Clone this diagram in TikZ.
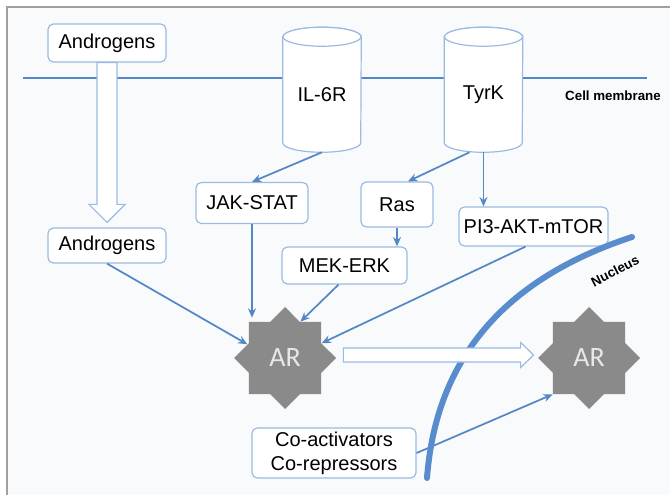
\documentclass[tikz,border=0pt]{standalone}
\usepackage{fontspec}
\setmainfont{Liberation Sans}
\newfontfamily\arfont{Carlito}
\usetikzlibrary{shapes.geometric,arrows.meta,calc}

\definecolor{linkblue}{RGB}{84,135,198}
\definecolor{boxblue}{RGB}{155,187,225}
\definecolor{nucblue}{RGB}{88,140,205}
\definecolor{panelbg}{RGB}{249,250,252}
\definecolor{framegray}{RGB}{160,160,160}
\definecolor{argray}{RGB}{138,138,138}
\definecolor{artext}{RGB}{232,232,232}

\begin{document}
\begin{tikzpicture}[x=0.75pt,y=-0.75pt,
  pathbox/.style={draw=boxblue, line width=0.9pt, rounded corners=4pt, fill=white,
    inner sep=0pt, align=center, font=\fontsize{15}{18}\selectfont},
  link/.style={draw=linkblue, line width=1.3pt, -{Stealth[length=7pt,width=6pt]}},
  receptor/.style={inner sep=0pt, minimum width=58.5pt, minimum height=86.25pt,
    font=\fontsize{15}{18}\selectfont},
  cyl/.style={draw=boxblue, line width=0.9pt, fill=white},
  arstar/.style={star, star points=8, star point ratio=1.307, minimum size=76.5pt,
    inner sep=0pt, fill=argray, text=artext, font=\arfont\fontsize{21}{24}\selectfont},
  hollow/.style={draw=boxblue, line width=0.9pt, fill=white, line join=miter},
  membrane/.style={draw=linkblue, line width=1.2pt},
  nucleus/.style={draw=nucblue, line width=4.5pt, line cap=round},
  smalllabel/.style={font=\fontsize{10}{12}\selectfont\bfseries, inner sep=0pt},
]
\useasboundingbox (0,0) rectangle (670,495);

% panel and frame
\fill[panelbg] (7,7) rectangle (690,510);
\draw[framegray, line width=1.1pt] (690,7) -- (7,7) -- (7,510);

% receptors (labels; cylinders drawn below)
\node[receptor] (il6r) at (322,94.5) {};
\node[receptor] (tyrk) at (483.5,94.5) {};

% cell membrane
\coordinate (memL) at (23,78);
\coordinate (memR) at (647,78);
\draw[membrane] (memL) -- (memL -| il6r.west);
\draw[membrane] (il6r.east |- memL) -- (tyrk.west |- memL);
\draw[membrane] (tyrk.east |- memL) -- (memR);
\node[smalllabel] (cm) at (613,96) {Cell membrane};

% cylinders
\foreach \r in {il6r,tyrk}{
  \draw[cyl] (\r.north west) -- ($(\r.south west)+(0,-9.5)$)
    arc[start angle=180, end angle=360, x radius=29.25pt, y radius=7.125pt]
    -- (\r.north east)
    arc[start angle=0, end angle=180, x radius=29.25pt, y radius=7.125pt] -- cycle;
  \draw[cyl] (\r.north) ellipse [x radius=29.25pt, y radius=7.125pt];
}
\node[receptor] at (il6r.center) {IL-6R};
\node[receptor] at (tyrk.center) {TyrK};

% pathway boxes
\node[pathbox, minimum width=88.5pt, minimum height=28.5pt] (andTop) at (107,43) {Androgens};
\node[pathbox, minimum width=88.5pt, minimum height=26.25pt] (andBot) at (107,245.5) {Androgens};
\node[pathbox, minimum width=84pt, minimum height=30.75pt] (jak) at (252,203) {JAK-STAT};
\node[pathbox, minimum width=54pt, minimum height=33.75pt] (ras) at (397,204.5) {Ras};
\node[pathbox, minimum width=111.75pt, minimum height=29.25pt] (pi3) at (533.5,226.5) {PI3-AKT-mTOR};
\node[pathbox, minimum width=93.75pt, minimum height=27.75pt] (mek) at (344.5,265.5) {MEK-ERK};
\node[pathbox, minimum width=123pt, minimum height=37.5pt] (coact) at (334,453) {Co-activators\\Co-repressors};

% androgen receptor
\node[arstar] (ar1) at (285,358) {AR};
\node[arstar] (ar2) at (589,358) {AR};

% signalling connectors
\draw[link] (il6r.south) -- (jak.north);
\draw[link] ($(tyrk.south)+(-14,0)$) -- ($(ras.north)+(11,0)$);
\draw[link] (tyrk.south) -- (tyrk.south |- pi3.north);
\draw[link] (ras.south) -- (ras.south |- mek.north);
\draw[link] (andBot.south) -- (ar1.160);
\draw[link, shorten >=3pt] (jak.south) -- (jak.south |- ar1.outer point 2);
\draw[link] ($(mek.south)+(-6,0)$) -- (ar1.67);
\draw[link] ($(pi3.south)+(-8,0)$) -- (ar1.22);
\draw[link] (coact.east) -- (ar2.225);

% nuclear envelope
\draw[nucleus] (632,237) .. controls (504,279) and (436,359) .. (427,478);
\node[smalllabel, rotate=27] (nuc) at (615,271) {Nucleus};

% hollow arrow: androgens cross the membrane
\coordinate (ha) at (andTop.south);
\coordinate (hb) at ($(andBot.north)+(0,-5)$);
\draw[hollow] ($(ha)+(-10,0)$) -- ($(hb)+(-10,-18)$) -- ($(hb)+(-18,-18)$) -- (hb)
  -- ($(hb)+(18,-18)$) -- ($(hb)+(10,-18)$) -- ($(ha)+(10,0)$) -- cycle;

% hollow arrow: AR translocates to the nucleus
\coordinate (ts) at ($(ar1.east)+(7,-3)$);
\coordinate (tt) at ($(ar2.west)+(-4,-3)$);
\draw[hollow] ($(ts)+(0,-7)$) -- ($(tt)+(-13,-7)$) -- ($(tt)+(-13,-12.5)$) -- (tt)
  -- ($(tt)+(-13,12.5)$) -- ($(tt)+(-13,7)$) -- ($(ts)+(0,7)$) -- cycle;
\end{tikzpicture}
\end{document}
